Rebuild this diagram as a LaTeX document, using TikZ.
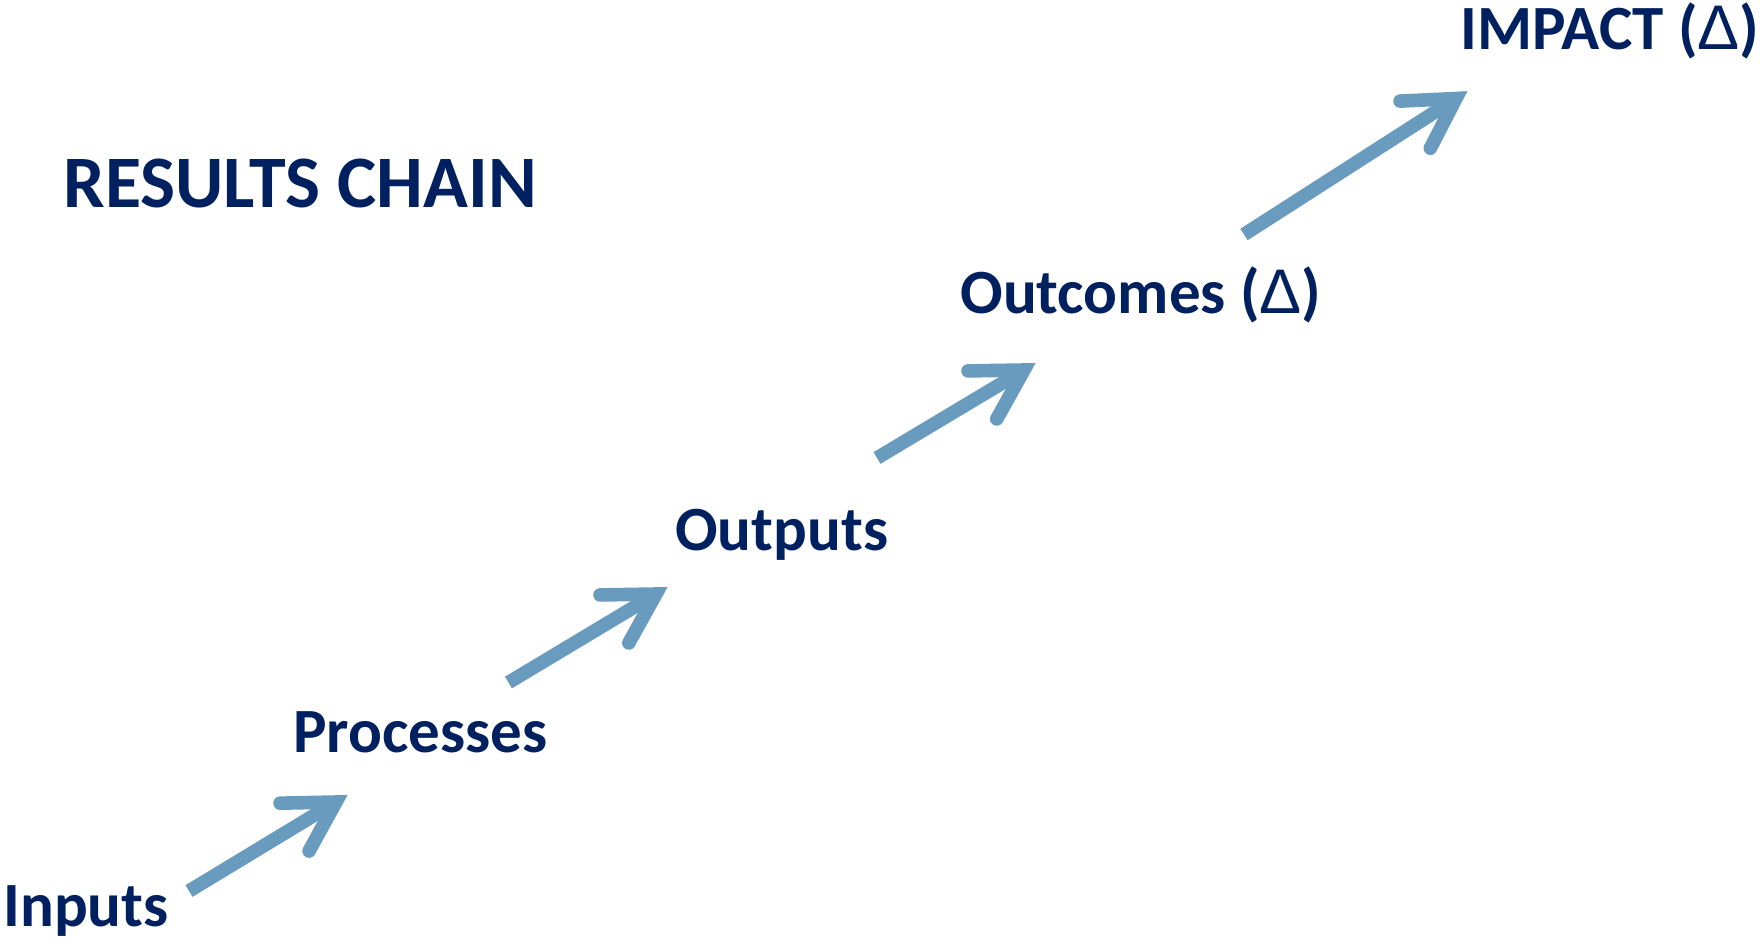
\documentclass[tikz,border=0pt]{standalone}
\usepackage{fontspec}
\setmainfont{Carlito}
\newfontfamily\deltafont{Liberation Sans}
\usetikzlibrary{calc}
\definecolor{chainblue}{HTML}{002060}
\definecolor{arrowblue}{HTML}{689BBD}
\tikzset{
  stagelabel/.style={anchor=base west, inner sep=0pt, text=chainblue, font=\fontsize{31.5pt}{36pt}\selectfont\bfseries},
  titlelabel/.style={stagelabel, font=\fontsize{37pt}{42pt}\selectfont\bfseries},
  shaft/.style={draw=arrowblue, line width=6.8pt, line cap=butt},
  barbs/.style={draw=arrowblue, line width=6.8pt, line cap=round, line join=miter, miter limit=10}
}
% step arrow: straight shaft with an open, round-ended barb head
\newcommand\chainarrow[2]{%
  \draw[shaft] (#1) -- (#2);
  \draw[barbs] ($(#2)!28pt!30:(#1)$) -- (#2) -- ($(#2)!28pt!-30:(#1)$);
}
\newcommand\dlt{{\deltafont\mdseries\symbol{"0394}}}
\begin{document}
\begin{tikzpicture}[x=0.5pt,y=-0.5pt]
  \useasboundingbox (0,0) rectangle (1761,938);

  \node[titlelabel] (title) at (63,207) {RESULTS CHAIN};

  \node[stagelabel] (inputs)    at (3,926)    {Inputs};
  \node[stagelabel] (processes) at (293,752)  {Processes};
  \node[stagelabel] (outputs)   at (675,550)  {Outputs};
  \node[stagelabel] (outcomes)  at (960,313)  {Outcomes (\dlt)};
  \node[stagelabel] (impact)    at (1460,49)  {IMPACT (\dlt)};

  \coordinate (t1) at (189,891);    \coordinate (h1) at (336,802);
  \coordinate (t2) at (508.5,682.5);\coordinate (h2) at (656,594);
  \coordinate (t3) at (877,458);    \coordinate (h3) at (1024,370);
  \coordinate (t4) at (1244,234.5); \coordinate (h4) at (1456,98.5);

  \chainarrow{t1}{h1}
  \chainarrow{t2}{h2}
  \chainarrow{t3}{h3}
  \chainarrow{t4}{h4}
\end{tikzpicture}
\end{document}
